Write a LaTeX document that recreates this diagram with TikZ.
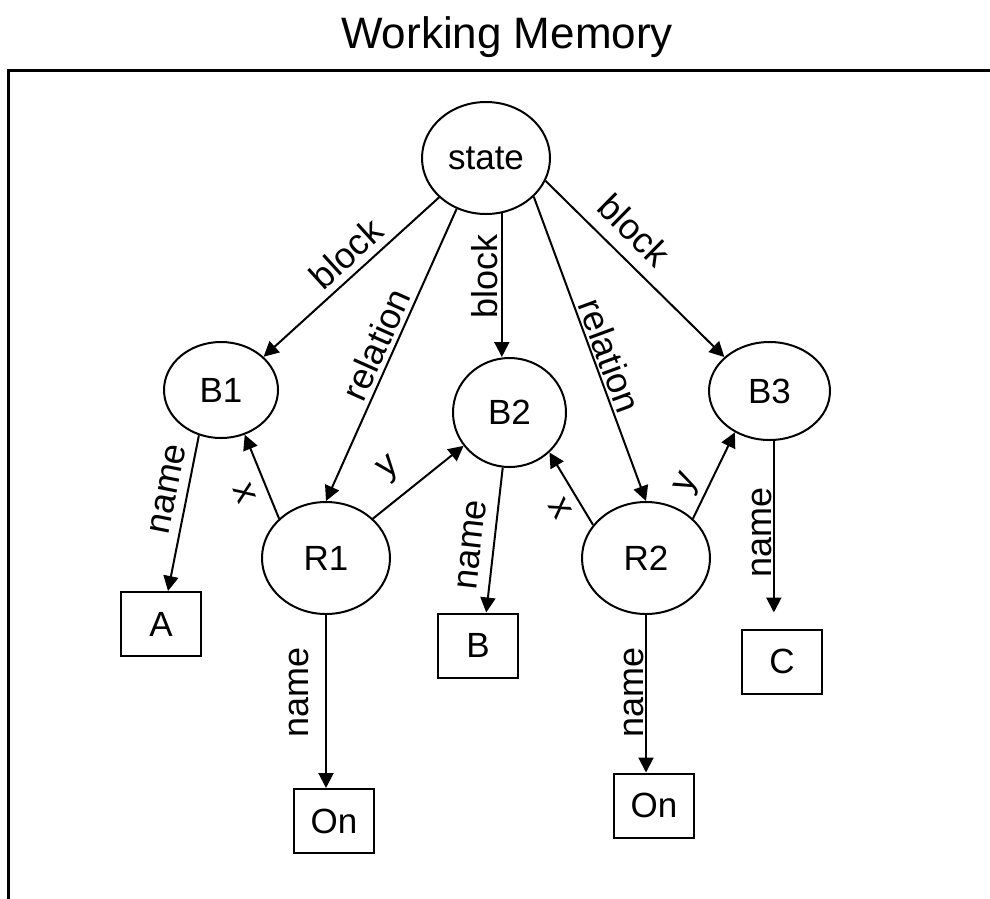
\documentclass[tikz,border=0pt]{standalone}
\usepackage{fontspec}
\setmainfont{Liberation Sans}
\usetikzlibrary{arrows.meta, shapes.geometric}

\newcommand{\titlefont}{\fontsize{44}{52}\selectfont}
\newcommand{\nodefont}{\fontsize{35}{42}\selectfont}
\newcommand{\lblfont}{\fontsize{36}{42}\selectfont}

\begin{document}
\begin{tikzpicture}[x=1pt, y=-1pt, line width=2pt,
  ent/.style={ellipse, draw, inner sep=0pt, font=\nodefont},
  val/.style={rectangle, draw, minimum width=80pt, minimum height=64pt,
              inner sep=0pt, font=\nodefont},
  link/.style={-{Triangle[length=15pt, width=15pt]}},
  lbl/.style={font=\lblfont, inner sep=4pt}]
\useasboundingbox (0,0) rectangle (990,898);
% Title and frame
\node[font=\titlefont, anchor=base] (title) at (507,48) {Working Memory};
\draw[line width=3pt] (1000,70) -- (8.5,70) -- (8.5,910);
% Identifiers
\node[ent, minimum width=128pt, minimum height=112pt] (state) at (486,158) {state};
\node[ent, minimum width=114pt, minimum height=96pt]  (b1) at (221,390) {B1};
\node[ent, minimum width=113pt, minimum height=109pt] (b2) at (509.5,412.5) {B2};
\node[ent, minimum width=121pt, minimum height=98pt]  (b3) at (769.5,391) {B3};
\node[ent, minimum width=128pt, minimum height=112pt] (r1) at (326,558) {R1};
\node[ent, minimum width=128pt, minimum height=112pt] (r2) at (646,558) {R2};
% Constants
\node[val] (a)   at (161,624)   {A};
\node[val] (b)   at (478,645.5) {B};
\node[val] (c)   at (782,661.5) {C};
\node[val] (on1) at (334,821)   {On};
\node[val] (on2) at (654,805.5) {On};
% Links from the state
\draw[link] (state.-140) -- node[lbl, sloped, above, pos=0.45, inner sep=7pt] {block} (b1.38);
\draw[link] (state.-120) -- node[lbl, sloped, above, pos=0.49] {relation} (r1.north);
\draw[link] (state.-74) -- node[lbl, rotate=90, anchor=south, pos=0.44, inner sep=3pt] {block} (state.-74 |- b2.north);
\draw[link] (state.-39) -- node[lbl, sloped, above, pos=0.54, inner sep=2pt] {relation} (r2.north);
\draw[link] (state.-21) -- node[lbl, sloped, above, pos=0.39, inner sep=13pt] {block} (b3.143);
% Links of the relations
\draw[link] (r1.140) -- node[lbl, sloped, below, pos=0.4, inner sep=12pt] {x} (b1.-62);
\draw[link] (r1.40) -- node[lbl, sloped, above, pos=0.38, inner sep=13pt] {y} (b2.-144);
\draw[link] (r2.148) -- node[lbl, sloped, below, pos=0.37, inner sep=9pt] {x} (b2.-45);
\draw[link] (r2.40) -- node[lbl, sloped, above, pos=0.31, inner sep=5pt] {y} (b3.-130);
% Names
\draw[link] (b1.-116) -- node[lbl, sloped, above, pos=0.37, inner sep=9pt] {name} (a.78);
\draw[link] (b2.-97) -- node[lbl, sloped, above, pos=0.55, inner sep=11pt] {name} (b.76);
\draw[link, shorten >=16pt] (b3.-85) -- node[lbl, rotate=90, anchor=south, pos=0.49, inner sep=1pt] {name} (b3.-85 |- c.north);
\draw[link] (r1.south) -- node[lbl, rotate=90, anchor=south, pos=0.45, inner sep=16pt] {name} (r1.south |- on1.north);
\draw[link] (r2.south) -- node[lbl, rotate=90, anchor=south, pos=0.49, inner sep=1pt] {name} (r2.south |- on2.north);
\end{tikzpicture}
\end{document}
